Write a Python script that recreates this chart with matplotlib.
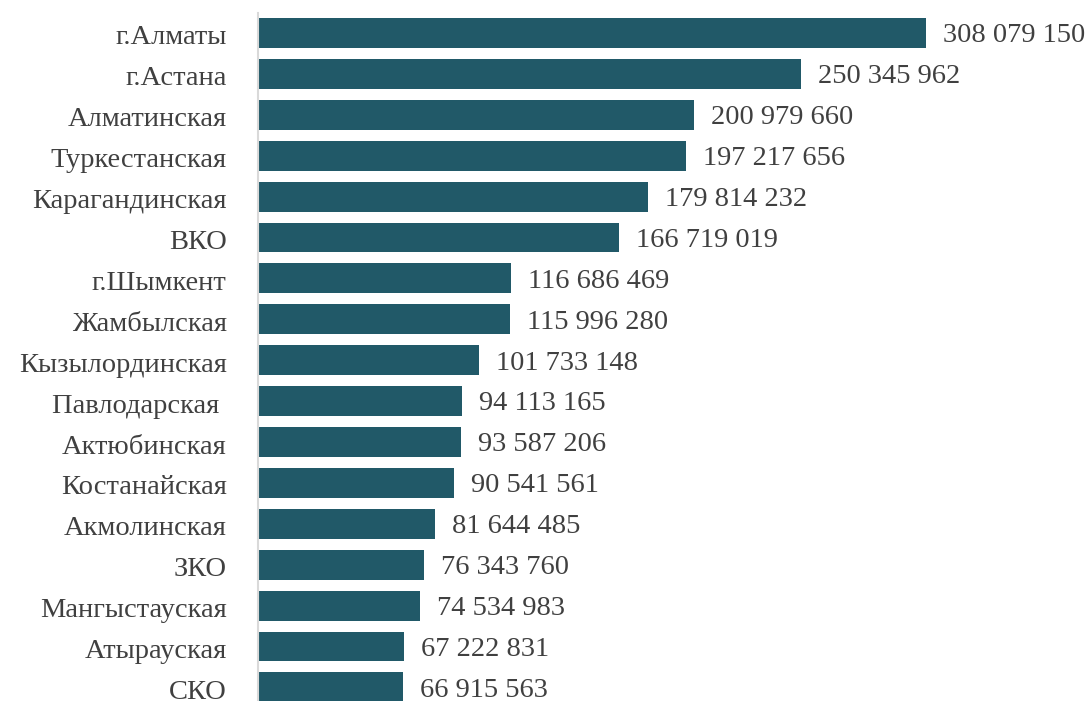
import matplotlib
matplotlib.use("Agg")
import matplotlib.pyplot as plt
from matplotlib.transforms import ScaledTranslation

regions = ["г.Алматы", "г.Астана", "Алматинская", "Туркестанская", "Карагандинская",
           "ВКО", "г.Шымкент", "Жамбылская", "Кызылординская", "Павлодарская ",
           "Актюбинская", "Костанайская", "Акмолинская", "ЗКО", "Мангыстауская",
           "Атырауская", "СКО"]
values = [308079150, 250345962, 200979660, 197217656, 179814232, 166719019,
          116686469, 115996280, 101733148, 94113165, 93587206, 90541561,
          81644485, 76343760, 74534983, 67222831, 66915563]

plt.rcParams['font.family'] = ['Liberation Serif', 'DejaVu Serif']

W, H = 1092, 701
fig = plt.figure(figsize=(W / 100, H / 100), dpi=100)
ax = fig.add_axes([258 / W, 0, 1 - 258 / W, 1 - 13 / H])

pos = list(range(len(regions)))
bar_color = "#215968"
text_color = "#404040"
ax.barh(pos, values, height=0.73, color=bar_color)

for p, v in zip(pos, values):
    lbl = f"{v:,}".replace(",", " ")
    ax.text(v + 308079150 * 17 / 668, p + 0.07, lbl, va="center", ha="left",
            fontsize=20.5, color=text_color)

ax.set_yticks(pos)
ax.set_yticklabels(regions, fontsize=20.5, color=text_color)
ax.tick_params(axis="y", length=0, pad=22.6)
shift = ScaledTranslation(0, -2 / 100, fig.dpi_scale_trans)
for t in ax.get_yticklabels():
    t.set_transform(t.get_transform() + shift)
ax.set_xticks([])
ax.set_xlim(0, 308079150 * (W - 258) / 668)
ax.set_ylim((H - 33) / 40.9, -(33 - 13) / 40.9)

for s in ["top", "right", "bottom"]:
    ax.spines[s].set_visible(False)
ax.spines["left"].set_color("#d9d9d9")
ax.spines["left"].set_linewidth(1.5)

fig.savefig("out.png", dpi=100)
